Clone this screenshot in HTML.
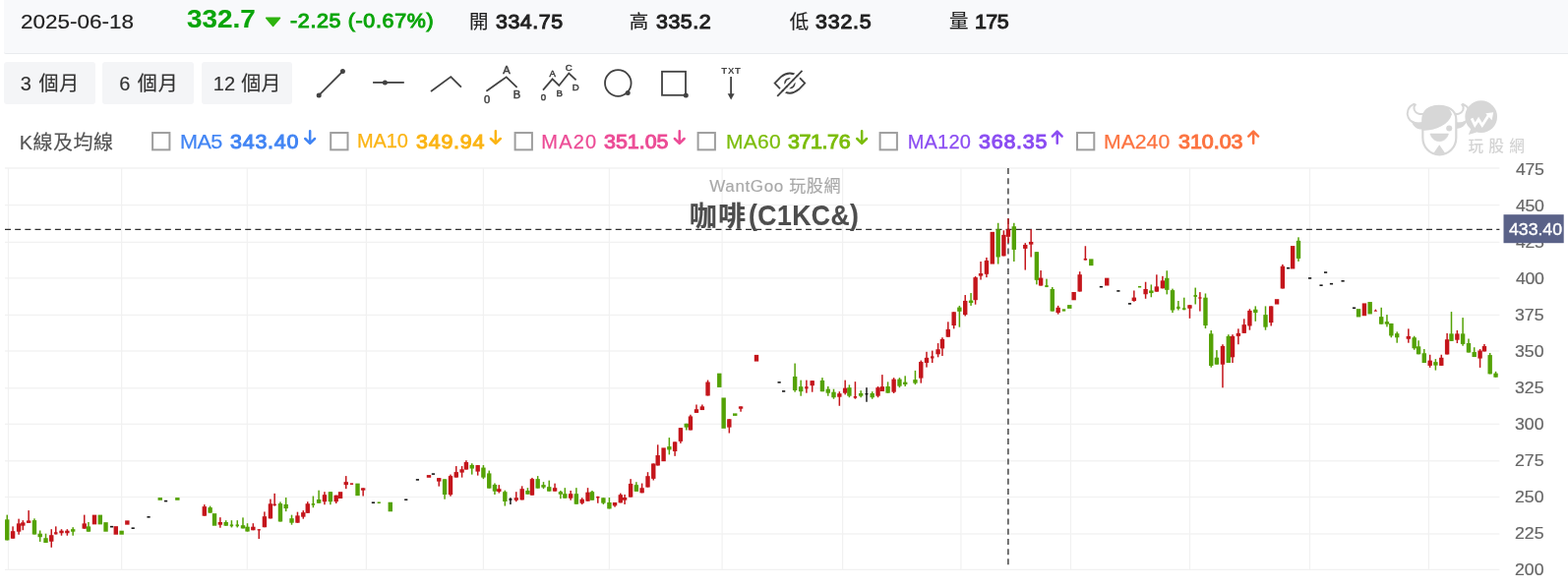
<!DOCTYPE html>
<html lang="zh-Hant">
<head>
<meta charset="utf-8">
<title>咖啡(C1KC&amp;) - WantGoo 玩股網</title>
<style>
*{box-sizing:border-box;margin:0;padding:0}
html,body{width:1594px;height:597px;overflow:hidden;background:#fff}
body{position:relative;font-family:"Liberation Sans","Noto Sans CJK TC","Noto Sans CJK SC",sans-serif;color:#333}
.t{position:absolute;white-space:nowrap;line-height:1;font-style:normal;font-weight:400;transform-origin:0 0}
b.t{font-weight:400}
b.h{font-weight:700}
.hdr{position:absolute;left:4px;top:0;width:1590px;height:55px;background:#f8f9fb;border-bottom:1.6px solid #e9ebee;border-bottom-left-radius:2px}
.btn{position:absolute;top:63px;width:92.5px;height:43px;background:#f4f5f7;border-radius:3px}
.chart,.ov{position:absolute;left:0;top:0}
.it{font-family:"Liberation Sans",sans-serif}
</style>
</head>
<body>
<header>
<div class="hdr"></div>
<span class="t" style="left:21.2px;top:11.05px;font-size:21px;color:#222;transform:scaleX(1.07);-webkit-text-stroke:0.2px #222">2025-06-18</span>
<b class="t h" style="left:189.5px;top:6.4px;font-size:26px;color:#0aa50a;transform:scaleX(1.07);-webkit-text-stroke:0.15px #0aa50a">332.7</b>
<b class="t" style="left:295.3px;top:11.4px;font-size:20px;color:#0aa50a;letter-spacing:0.63px;transform:scaleX(1.07);-webkit-text-stroke:1.0px #0aa50a">-2.25 (-0.67%)</b>
<div><span class="t" style="left:476.9px;top:12.6px;font-size:19.5px;color:#222;-webkit-text-stroke:0.15px #222">開 </span><b class="t" style="left:503.85px;top:12.1px;font-size:20px;color:#222;letter-spacing:0.5px;transform:scaleX(1.07);-webkit-text-stroke:1.0px #222">334.75</b></div>
<div><span class="t" style="left:639.8px;top:12.7px;font-size:19.5px;color:#222;-webkit-text-stroke:0.15px #222">高 </span><b class="t" style="left:666.85px;top:12.1px;font-size:20px;color:#222;letter-spacing:0.5px;transform:scaleX(1.07);-webkit-text-stroke:1.0px #222">335.2</b></div>
<div><span class="t" style="left:802.75px;top:13.1px;font-size:19.5px;color:#222;-webkit-text-stroke:0.15px #222">低 </span><b class="t" style="left:829.15px;top:12.1px;font-size:20px;color:#222;letter-spacing:0.75px;transform:scaleX(1.07);-webkit-text-stroke:1.0px #222">332.5</b></div>
<div><span class="t" style="left:965.0px;top:12.1px;font-size:19.5px;color:#222;-webkit-text-stroke:0.15px #222">量 </span><b class="t" style="left:991.15px;top:12.1px;font-size:20px;color:#222;letter-spacing:-0.5px;transform:scaleX(1.07);-webkit-text-stroke:1.0px #222">175</b></div>
</header>
<nav>
<div class="btn" style="left:4px"></div>
<div class="btn" style="left:104px"></div>
<div class="btn" style="left:204.5px"></div>
<span class="t" style="left:20.85px;top:74.75px;font-size:20px;color:#333;letter-spacing:0.95px;-webkit-text-stroke:0.15px #333">3 個月</span>
<span class="t" style="left:121.15px;top:74.75px;font-size:20px;color:#333;letter-spacing:0.95px;-webkit-text-stroke:0.15px #333">6 個月</span>
<span class="t" style="left:216.75px;top:74.75px;font-size:20px;color:#333;letter-spacing:0.25px;-webkit-text-stroke:0.15px #333">12 個月</span>
<svg class="ov" width="1594" height="597" viewBox="0 0 1594 597" fill="none" stroke="#424242" stroke-width="1.8">
<g>
<path d="M324.2 96.9L348.4 72.6"/>
<circle cx="324.2" cy="96.9" r="2.5" fill="#424242" stroke="none"/>
<circle cx="348.4" cy="72.6" r="2.5" fill="#424242" stroke="none"/>
</g>
<g>
<path d="M379.1 83.9H410.8"/>
<circle cx="391.4" cy="83.9" r="2.5" fill="#424242" stroke="none"/>
</g>
<path d="M438 93L458.3 78.1L468.9 88.7"/>
<g>
<path d="M494.4 92.7L514.7 78.3L525.6 88.9"/>
<g class="it" stroke="#424242" stroke-width="0.5" fill="#424242" font-weight="400" font-size="11.2" text-anchor="middle">
<text x="514.9" y="74.6">A</text>
<text x="525.4" y="100.2">B</text>
<text x="495" y="104.5">0</text>
</g>
</g>
<g>
<path d="M552 91.6L561.6 80.4L568.3 87L578.3 74.5L585.6 81.3"/>
<g class="it" stroke="#424242" stroke-width="0.5" fill="#424242" font-weight="400" font-size="9.6" text-anchor="middle">
<text x="561.8" y="77.7">A</text>
<text x="568.7" y="97.6">B</text>
<text x="578.2" y="72">C</text>
<text x="585.3" y="92">D</text>
<text x="552.5" y="101.8">0</text>
</g>
</g>
<g>
<circle cx="628.3" cy="84.5" r="13.3"/>
<circle cx="638.2" cy="94.6" r="2.5" fill="#424242" stroke="none"/>
</g>
<g>
<rect x="673" y="72.8" width="24" height="24"/>
<circle cx="697.3" cy="96.9" r="2.5" fill="#424242" stroke="none"/>
</g>
<g>
<text class="it" x="743.5" y="74.9" stroke="none" fill="#424242" font-weight="700" font-size="9.6" letter-spacing="0.8" text-anchor="middle">TXT</text>
<path d="M743.1 78V96"/>
<path d="M739.7 95.2H746.6L743.15 101.6Z" fill="#424242" stroke="none"/>
</g>
<g>
<path d="M787.6 84.6L793.6 78.4Q802.9 70.6 812.2 78.4L818.2 84.6L812.2 90.8Q802.9 98.6 793.6 90.8Z" stroke-linejoin="miter"/>
<circle cx="802.9" cy="84.6" r="4.8" stroke-width="1.8"/>
<path d="M791.7 99.3L817 73.4" stroke="#fff" stroke-width="2.4"/>
<path d="M788.7 96.3L814 70.4" stroke="#fff" stroke-width="2.4"/>
<path d="M790.2 97.8L815.5 71.9"/>
</g>
<path d="M270.6 18.3H284.6L277.6 26.5Z" fill="#2eb30e" stroke="#2eb30e" stroke-width="1.4" stroke-linejoin="round"/>
</svg>

</nav>
<section>
<span class="t" style="left:19.7px;top:134.7px;font-size:20px;color:#555;letter-spacing:0.5px;-webkit-text-stroke:0.15px #555">K線及均線</span>
<div><span class="t" style="left:183.2px;top:133.6px;font-size:20px;color:#4285f4;letter-spacing:-0.56px;transform:scaleX(1.08);-webkit-text-stroke:0.25px #4285f4">MA5 </span><b class="t" style="left:233.75px;top:133.8px;font-size:20px;color:#4285f4;letter-spacing:0.75px;transform:scaleX(1.07);-webkit-text-stroke:1.0px #4285f4">343.40</b></div>
<div><span class="t" style="left:363.1px;top:133.4px;font-size:20px;color:#fbb414;letter-spacing:-0.18px;-webkit-text-stroke:0.25px #fbb414">MA10 </span><b class="t" style="left:422.75px;top:133.8px;font-size:20px;color:#fbb414;letter-spacing:0.75px;transform:scaleX(1.07);-webkit-text-stroke:1.0px #fbb414">349.94</b></div>
<div><span class="t" style="left:550.3px;top:133.6px;font-size:20px;color:#ec4c96;letter-spacing:1.23px;-webkit-text-stroke:0.25px #ec4c96">MA20 </span><b class="t" style="left:613.9px;top:133.8px;font-size:20px;color:#ec4c96;transform:scaleX(1.07);-webkit-text-stroke:1.0px #ec4c96">351.05</b></div>
<div><span class="t" style="left:738.1px;top:133.8px;font-size:20px;color:#7cbd0c;letter-spacing:0.25px;transform:scaleX(1.05);-webkit-text-stroke:0.25px #7cbd0c">MA60 </span><b class="t" style="left:800.6px;top:133.8px;font-size:20px;color:#7cbd0c;letter-spacing:-0.36px;transform:scaleX(1.07);-webkit-text-stroke:1.0px #7cbd0c">371.76</b></div>
<div><span class="t" style="left:922.8px;top:134.2px;font-size:20px;color:#8b4df2;letter-spacing:0.16px;-webkit-text-stroke:0.25px #8b4df2">MA120 </span><b class="t" style="left:994.6px;top:133.8px;font-size:20px;color:#8b4df2;letter-spacing:0.75px;transform:scaleX(1.07);-webkit-text-stroke:1.0px #8b4df2">368.35</b></div>
<div><span class="t" style="left:1122.3px;top:133.8px;font-size:20px;color:#fc7340;transform:scaleX(1.06);-webkit-text-stroke:0.25px #fc7340">MA240 </span><b class="t" style="left:1197.95px;top:133.8px;font-size:20px;color:#fc7340;transform:scaleX(1.07);-webkit-text-stroke:1.0px #fc7340">310.03</b></div>
<svg class="ov" width="1594" height="597" viewBox="0 0 1594 597"><rect x="155.10" y="135.05" width="17.3" height="17.3" fill="#fff" stroke="#9e9e9e" stroke-width="2"/><path d="M315.15 133.3V145.5M310.25 141L315.15 145.9L320.05 141" fill="none" stroke="#4285f4" stroke-width="2.5" stroke-linecap="round" stroke-linejoin="round"/><rect x="336.20" y="135.05" width="17.3" height="17.3" fill="#fff" stroke="#9e9e9e" stroke-width="2"/><path d="M503.85 133.3V145.5M498.95 141L503.85 145.9L508.75 141" fill="none" stroke="#fbb414" stroke-width="2.5" stroke-linecap="round" stroke-linejoin="round"/><rect x="523.60" y="135.05" width="17.3" height="17.3" fill="#fff" stroke="#9e9e9e" stroke-width="2"/><path d="M690.75 133.3V145.5M685.85 141L690.75 145.9L695.65 141" fill="none" stroke="#ec4c96" stroke-width="2.5" stroke-linecap="round" stroke-linejoin="round"/><rect x="709.60" y="135.05" width="17.3" height="17.3" fill="#fff" stroke="#9e9e9e" stroke-width="2"/><path d="M876.15 133.3V145.5M871.25 141L876.15 145.9L881.05 141" fill="none" stroke="#7cbd0c" stroke-width="2.5" stroke-linecap="round" stroke-linejoin="round"/><rect x="894.60" y="135.05" width="17.3" height="17.3" fill="#fff" stroke="#9e9e9e" stroke-width="2"/><path d="M1074.75 145.7V133.8M1069.85 138.6L1074.75 133.7L1079.65 138.6" fill="none" stroke="#8b4df2" stroke-width="2.5" stroke-linecap="round" stroke-linejoin="round"/><rect x="1095.00" y="135.05" width="17.3" height="17.3" fill="#fff" stroke="#9e9e9e" stroke-width="2"/><path d="M1274.15 145.7V133.8M1269.25 138.6L1274.15 133.7L1279.05 138.6" fill="none" stroke="#fc7340" stroke-width="2.5" stroke-linecap="round" stroke-linejoin="round"/></svg>
</section>
<aside>
<svg class="ov" width="1594" height="597" viewBox="0 0 1594 597">
<g transform="translate(1425 98) scale(0.10886)" fill="#d7d7d7" stroke="none">
<path d="M112 72C60 95 40 150 62 200C85 245 140 262 205 250L215 160C170 172 130 160 118 128C112 110 112 90 128 78Z" fill="#fff" stroke="#d7d7d7" stroke-width="18" stroke-linejoin="round"/>
<path d="M572 72C625 95 650 150 628 200C605 245 550 262 485 250L475 160C520 172 560 160 572 128C578 110 578 90 562 78Z" fill="#fff" stroke="#d7d7d7" stroke-width="18" stroke-linejoin="round"/>
<path d="M92 222C120 248 170 250 215 235L215 305C150 318 98 285 92 222Z"/>
<path d="M612 215C580 245 530 250 485 235L485 300C550 308 600 275 612 215Z"/>
<path d="M196 215C196 130 265 90 348 90C435 90 508 130 508 215L508 385C508 475 440 546 352 546C262 546 196 475 196 385Z" fill="#fff" stroke="#d7d7d7" stroke-width="20"/>
<path d="M190 215C190 125 262 82 348 82C410 82 452 108 468 168C440 262 330 318 190 322Z"/>
<circle cx="443" cy="298" r="28"/>
<path d="M266 350H436C436 350 420 420 351 420C282 420 266 350 266 350Z" stroke="#d7d7d7" stroke-width="6" stroke-linejoin="round"/>
<path d="M351 452L408 535C375 552 328 552 294 535Z"/>
</g>
<g transform="translate(1485 98) scale(0.10886)" fill="#d7d7d7" stroke="none">
<circle cx="190" cy="190" r="150"/>
<path d="M95 300L72 358L150 335Z"/>
<path d="M102 205L132 268L166 215L200 270L258 180" fill="none" stroke="#fff" stroke-width="26" stroke-linejoin="miter" stroke-linecap="butt"/>
<path d="M232 158L305 150L290 222Z" fill="#fff"/>
</g>
</svg>
<span class="t" style="left:1492.4px;top:141px;font-size:15.6px;letter-spacing:5.3px;color:#d4d4d4;font-weight:500">玩股網</span>

</aside>
<main>
<span class="t" style="left:1541.0px;top:164.15px;font-size:16.5px;color:#666;letter-spacing:-0.25px;transform:scaleX(1.07);-webkit-text-stroke:0.2px #666">475</span>
<span class="t" style="left:1541.0px;top:200.6px;font-size:16.5px;color:#666;letter-spacing:-0.25px;transform:scaleX(1.07);-webkit-text-stroke:0.2px #666">450</span>
<span class="t" style="left:1541.0px;top:237.9px;font-size:16.5px;color:#666;letter-spacing:-0.25px;transform:scaleX(1.07);-webkit-text-stroke:0.2px #666">425</span>
<span class="t" style="left:1541.0px;top:274.7px;font-size:16.5px;color:#666;letter-spacing:-0.25px;transform:scaleX(1.07);-webkit-text-stroke:0.2px #666">400</span>
<span class="t" style="left:1540.0px;top:311.75px;font-size:16.5px;color:#666;transform:scaleX(1.07);-webkit-text-stroke:0.2px #666">375</span>
<span class="t" style="left:1540.0px;top:348.8px;font-size:16.5px;color:#666;transform:scaleX(1.07);-webkit-text-stroke:0.2px #666">350</span>
<span class="t" style="left:1540.0px;top:385.85px;font-size:16.5px;color:#666;transform:scaleX(1.07);-webkit-text-stroke:0.2px #666">325</span>
<span class="t" style="left:1540.0px;top:422.9px;font-size:16.5px;color:#666;transform:scaleX(1.07);-webkit-text-stroke:0.2px #666">300</span>
<span class="t" style="left:1540.0px;top:459.95px;font-size:16.5px;color:#666;transform:scaleX(1.07);-webkit-text-stroke:0.2px #666">275</span>
<span class="t" style="left:1540.0px;top:497.0px;font-size:16.5px;color:#666;transform:scaleX(1.07);-webkit-text-stroke:0.2px #666">250</span>
<span class="t" style="left:1540.0px;top:534.05px;font-size:16.5px;color:#666;transform:scaleX(1.07);-webkit-text-stroke:0.2px #666">225</span>
<span class="t" style="left:1540.0px;top:571.1px;font-size:16.5px;color:#666;transform:scaleX(1.07);-webkit-text-stroke:0.2px #666">200</span>
<svg class="chart" width="1594" height="597" viewBox="0 0 1594 597">
<rect x="5" y="170" width="1519.4" height="2" fill="#f5f5f5"/>
<rect x="5" y="208.00" width="1519.4" height="1.2" fill="#f1f1f1"/>
<rect x="5" y="245.80" width="1519.4" height="1.2" fill="#f1f1f1"/>
<rect x="5" y="282.30" width="1519.4" height="1.2" fill="#f1f1f1"/>
<rect x="5" y="319.80" width="1519.4" height="1.2" fill="#f1f1f1"/>
<rect x="5" y="356.40" width="1519.4" height="1.2" fill="#f1f1f1"/>
<rect x="5" y="394.20" width="1519.4" height="1.2" fill="#f1f1f1"/>
<rect x="5" y="430.70" width="1519.4" height="1.2" fill="#f1f1f1"/>
<rect x="5" y="468.20" width="1519.4" height="1.2" fill="#f1f1f1"/>
<rect x="5" y="504.90" width="1519.4" height="1.2" fill="#f1f1f1"/>
<rect x="5" y="542.40" width="1519.4" height="1.2" fill="#f1f1f1"/>
<rect x="5" y="578.80" width="1519.4" height="1.2" fill="#f1f1f1"/>
<rect x="7.90" y="171" width="1.2" height="408" fill="#f1f1f1"/>
<rect x="123.00" y="171" width="1.2" height="408" fill="#f1f1f1"/>
<rect x="250.70" y="171" width="1.2" height="408" fill="#f1f1f1"/>
<rect x="371.80" y="171" width="1.2" height="408" fill="#f1f1f1"/>
<rect x="490.80" y="171" width="1.2" height="408" fill="#f1f1f1"/>
<rect x="618.80" y="171" width="1.2" height="408" fill="#f1f1f1"/>
<rect x="733.50" y="171" width="1.2" height="408" fill="#f1f1f1"/>
<rect x="856.00" y="171" width="1.2" height="408" fill="#f1f1f1"/>
<rect x="976.30" y="171" width="1.2" height="408" fill="#f1f1f1"/>
<rect x="1087.90" y="171" width="1.2" height="408" fill="#f1f1f1"/>
<rect x="1208.90" y="171" width="1.2" height="408" fill="#f1f1f1"/>
<rect x="1330.90" y="171" width="1.2" height="408" fill="#f1f1f1"/>
<rect x="1451.80" y="171" width="1.2" height="408" fill="#f1f1f1"/>
<path d="M5 233.3H1524.4" fill="none" stroke="#303030" stroke-width="1.25" stroke-dasharray="6 4.176"/>
<path d="M1024.9 171.1V574.6" fill="none" stroke="#3a3a3a" stroke-width="1.4" stroke-dasharray="6 4.185"/>
<rect x="6.49" y="523.62" width="1.5" height="25.83" fill="#54a205"/>
<rect x="5.04" y="528.34" width="4.4" height="21.11" fill="#54a205"/>
<rect x="12.32" y="535.38" width="1.5" height="12.36" fill="#c4151b"/>
<rect x="10.87" y="540.20" width="4.4" height="7.54" fill="#c4151b"/>
<rect x="18.35" y="527.64" width="1.5" height="16.08" fill="#c4151b"/>
<rect x="16.90" y="532.36" width="4.4" height="8.34" fill="#c4151b"/>
<rect x="22.57" y="529.15" width="1.5" height="10.05" fill="#c4151b"/>
<rect x="21.12" y="531.36" width="4.4" height="3.32" fill="#c4151b"/>
<rect x="28.40" y="519.10" width="1.5" height="12.76" fill="#c4151b"/>
<rect x="26.95" y="529.45" width="4.4" height="2.41" fill="#c4151b"/>
<rect x="34.22" y="527.34" width="1.5" height="16.18" fill="#54a205"/>
<rect x="32.77" y="529.15" width="4.4" height="14.37" fill="#54a205"/>
<rect x="39.95" y="539.50" width="1.5" height="11.46" fill="#54a205"/>
<rect x="38.50" y="542.71" width="4.4" height="3.52" fill="#54a205"/>
<rect x="45.78" y="542.71" width="1.5" height="9.35" fill="#54a205"/>
<rect x="44.33" y="547.24" width="4.4" height="4.82" fill="#54a205"/>
<rect x="51.51" y="538.19" width="1.5" height="18.59" fill="#c4151b"/>
<rect x="50.06" y="544.22" width="4.4" height="6.53" fill="#c4151b"/>
<rect x="56.03" y="535.38" width="1.5" height="8.04" fill="#c4151b"/>
<rect x="55.08" y="541.21" width="3.4" height="2.21" fill="#c4151b"/>
<rect x="61.76" y="538.19" width="1.5" height="6.53" fill="#c4151b"/>
<rect x="60.31" y="539.70" width="4.4" height="2.51" fill="#c4151b"/>
<rect x="67.59" y="538.19" width="1.5" height="6.53" fill="#c4151b"/>
<rect x="66.14" y="539.70" width="4.4" height="2.51" fill="#c4151b"/>
<rect x="73.42" y="536.18" width="1.5" height="8.54" fill="#54a205"/>
<rect x="71.97" y="538.19" width="4.4" height="2.51" fill="#54a205"/>
<rect x="84.98" y="523.62" width="1.5" height="14.07" fill="#c4151b"/>
<rect x="83.53" y="532.36" width="4.4" height="5.33" fill="#c4151b"/>
<rect x="89.20" y="530.95" width="1.5" height="9.75" fill="#54a205"/>
<rect x="87.75" y="535.38" width="4.4" height="5.33" fill="#54a205"/>
<rect x="93.78" y="523.62" width="4.4" height="9.75" fill="#c4151b"/>
<rect x="99.61" y="523.62" width="4.4" height="9.75" fill="#54a205"/>
<rect x="105.34" y="531.16" width="4.4" height="9.55" fill="#54a205"/>
<rect x="111.97" y="534.88" width="3.2" height="1.6" fill="#1a1a1a"/>
<rect x="115.59" y="535.18" width="4.4" height="8.54" fill="#c4151b"/>
<rect x="121.42" y="539.70" width="4.4" height="4.02" fill="#54a205"/>
<rect x="127.15" y="529.35" width="4.4" height="4.32" fill="#c4151b"/>
<rect x="133.58" y="536.39" width="3.2" height="1.6" fill="#1a1a1a"/>
<rect x="149.46" y="525.03" width="3.2" height="1.6" fill="#1a1a1a"/>
<rect x="160.56" y="506.08" width="4.4" height="2.71" fill="#54a205"/>
<rect x="166.99" y="508.80" width="3.2" height="1.6" fill="#1a1a1a"/>
<rect x="178.15" y="506.08" width="4.4" height="2.71" fill="#54a205"/>
<rect x="207.04" y="513.12" width="1.5" height="11.56" fill="#c4151b"/>
<rect x="205.59" y="515.13" width="4.4" height="9.55" fill="#c4151b"/>
<rect x="212.87" y="514.62" width="1.5" height="7.04" fill="#54a205"/>
<rect x="211.42" y="516.13" width="4.4" height="5.53" fill="#54a205"/>
<rect x="215.84" y="522.16" width="4.4" height="12.56" fill="#54a205"/>
<rect x="223.12" y="526.18" width="1.5" height="10.55" fill="#c4151b"/>
<rect x="221.67" y="531.01" width="4.4" height="2.71" fill="#c4151b"/>
<rect x="228.95" y="529.20" width="1.5" height="5.53" fill="#54a205"/>
<rect x="227.50" y="531.01" width="4.4" height="3.72" fill="#54a205"/>
<rect x="234.68" y="529.20" width="1.5" height="7.24" fill="#54a205"/>
<rect x="233.73" y="533.42" width="3.4" height="1.81" fill="#54a205"/>
<rect x="240.51" y="529.20" width="1.5" height="7.24" fill="#54a205"/>
<rect x="239.56" y="533.42" width="3.4" height="1.81" fill="#54a205"/>
<rect x="246.23" y="526.38" width="1.5" height="11.06" fill="#54a205"/>
<rect x="244.78" y="534.22" width="4.4" height="3.22" fill="#54a205"/>
<rect x="250.76" y="532.21" width="1.5" height="8.34" fill="#54a205"/>
<rect x="249.31" y="535.73" width="4.4" height="4.82" fill="#54a205"/>
<rect x="256.59" y="532.21" width="1.5" height="7.04" fill="#c4151b"/>
<rect x="255.14" y="535.73" width="4.4" height="3.52" fill="#c4151b"/>
<rect x="262.52" y="538.24" width="1.5" height="9.85" fill="#c4151b"/>
<rect x="261.57" y="538.24" width="3.4" height="1.20" fill="#c4151b"/>
<rect x="268.14" y="520.45" width="1.5" height="15.78" fill="#c4151b"/>
<rect x="266.69" y="525.18" width="4.4" height="11.06" fill="#c4151b"/>
<rect x="274.17" y="507.59" width="1.5" height="19.80" fill="#c4151b"/>
<rect x="272.72" y="512.31" width="4.4" height="15.08" fill="#c4151b"/>
<rect x="278.40" y="501.86" width="1.5" height="12.76" fill="#c4151b"/>
<rect x="277.45" y="512.61" width="3.4" height="1.51" fill="#c4151b"/>
<rect x="284.22" y="510.40" width="1.5" height="20.10" fill="#54a205"/>
<rect x="282.77" y="512.11" width="4.4" height="18.39" fill="#54a205"/>
<rect x="289.95" y="506.08" width="1.5" height="14.07" fill="#54a205"/>
<rect x="288.50" y="512.91" width="4.4" height="4.22" fill="#54a205"/>
<rect x="295.78" y="523.67" width="1.5" height="10.05" fill="#54a205"/>
<rect x="294.33" y="527.19" width="4.4" height="4.52" fill="#54a205"/>
<rect x="301.71" y="520.65" width="1.5" height="11.06" fill="#c4151b"/>
<rect x="300.26" y="524.37" width="4.4" height="7.34" fill="#c4151b"/>
<rect x="307.54" y="519.15" width="1.5" height="8.54" fill="#c4151b"/>
<rect x="306.09" y="521.16" width="4.4" height="4.52" fill="#c4151b"/>
<rect x="312.01" y="510.23" width="1.5" height="11.56" fill="#c4151b"/>
<rect x="310.56" y="512.24" width="4.4" height="9.55" fill="#c4151b"/>
<rect x="317.64" y="504.50" width="1.5" height="11.76" fill="#54a205"/>
<rect x="316.69" y="512.04" width="3.4" height="1.71" fill="#54a205"/>
<rect x="323.37" y="498.67" width="1.5" height="13.07" fill="#54a205"/>
<rect x="321.92" y="508.02" width="4.4" height="3.72" fill="#54a205"/>
<rect x="329.20" y="500.18" width="1.5" height="13.07" fill="#c4151b"/>
<rect x="327.75" y="503.19" width="4.4" height="7.04" fill="#c4151b"/>
<rect x="335.13" y="500.18" width="1.5" height="13.07" fill="#54a205"/>
<rect x="333.68" y="500.18" width="4.4" height="10.05" fill="#54a205"/>
<rect x="340.96" y="503.69" width="1.5" height="8.34" fill="#c4151b"/>
<rect x="339.51" y="503.69" width="4.4" height="6.53" fill="#c4151b"/>
<rect x="343.83" y="500.18" width="4.4" height="6.83" fill="#c4151b"/>
<rect x="351.01" y="484.10" width="1.5" height="13.07" fill="#c4151b"/>
<rect x="349.56" y="490.13" width="4.4" height="3.02" fill="#c4151b"/>
<rect x="355.89" y="491.34" width="3.2" height="1.6" fill="#c4151b"/>
<rect x="361.32" y="491.63" width="4.4" height="12.56" fill="#54a205"/>
<rect x="368.40" y="496.36" width="1.5" height="8.14" fill="#c4151b"/>
<rect x="366.95" y="496.36" width="4.4" height="2.31" fill="#c4151b"/>
<rect x="377.80" y="510.43" width="3.2" height="1.6" fill="#1a1a1a"/>
<rect x="383.63" y="510.43" width="3.2" height="1.6" fill="#54a205"/>
<rect x="394.58" y="510.73" width="4.4" height="9.55" fill="#54a205"/>
<rect x="411.16" y="507.42" width="3.2" height="1.6" fill="#1a1a1a"/>
<rect x="422.82" y="487.11" width="3.2" height="1.6" fill="#1a1a1a"/>
<rect x="433.78" y="483.09" width="4.4" height="2.71" fill="#c4151b"/>
<rect x="438.80" y="481.29" width="3.2" height="1.6" fill="#1a1a1a"/>
<rect x="445.48" y="486.11" width="1.5" height="8.54" fill="#c4151b"/>
<rect x="444.03" y="486.11" width="4.4" height="3.52" fill="#c4151b"/>
<rect x="451.31" y="487.31" width="1.5" height="20.40" fill="#54a205"/>
<rect x="449.86" y="487.31" width="4.4" height="15.68" fill="#54a205"/>
<rect x="457.24" y="482.59" width="1.5" height="22.11" fill="#c4151b"/>
<rect x="455.79" y="484.10" width="4.4" height="19.10" fill="#c4151b"/>
<rect x="463.02" y="474.06" width="1.5" height="11.56" fill="#c4151b"/>
<rect x="461.57" y="480.09" width="4.4" height="5.53" fill="#c4151b"/>
<rect x="468.85" y="474.06" width="1.5" height="11.56" fill="#c4151b"/>
<rect x="467.40" y="477.28" width="4.4" height="3.32" fill="#c4151b"/>
<rect x="473.17" y="468.23" width="1.5" height="9.35" fill="#c4151b"/>
<rect x="471.72" y="470.04" width="4.4" height="7.54" fill="#c4151b"/>
<rect x="479.00" y="471.25" width="1.5" height="11.36" fill="#54a205"/>
<rect x="477.55" y="472.85" width="4.4" height="3.72" fill="#54a205"/>
<rect x="484.93" y="473.06" width="1.5" height="10.55" fill="#c4151b"/>
<rect x="483.48" y="473.06" width="4.4" height="6.53" fill="#c4151b"/>
<rect x="490.66" y="473.06" width="1.5" height="14.07" fill="#54a205"/>
<rect x="489.21" y="475.57" width="4.4" height="10.05" fill="#54a205"/>
<rect x="496.49" y="478.58" width="1.5" height="18.09" fill="#54a205"/>
<rect x="495.04" y="481.40" width="4.4" height="15.28" fill="#54a205"/>
<rect x="502.21" y="491.45" width="1.5" height="11.56" fill="#54a205"/>
<rect x="500.76" y="492.95" width="4.4" height="6.73" fill="#54a205"/>
<rect x="506.54" y="493.16" width="1.5" height="8.34" fill="#c4151b"/>
<rect x="505.09" y="497.18" width="4.4" height="2.81" fill="#c4151b"/>
<rect x="512.57" y="498.68" width="1.5" height="15.88" fill="#54a205"/>
<rect x="511.12" y="500.19" width="4.4" height="9.85" fill="#54a205"/>
<rect x="518.19" y="506.22" width="1.5" height="6.83" fill="#1a1a1a"/>
<rect x="517.44" y="507.03" width="3.0" height="1.81" fill="#1a1a1a"/>
<rect x="524.02" y="500.19" width="1.5" height="10.05" fill="#c4151b"/>
<rect x="522.57" y="506.22" width="4.4" height="2.51" fill="#c4151b"/>
<rect x="529.95" y="494.36" width="1.5" height="14.07" fill="#c4151b"/>
<rect x="528.50" y="497.18" width="4.4" height="11.26" fill="#c4151b"/>
<rect x="535.68" y="496.17" width="1.5" height="6.53" fill="#54a205"/>
<rect x="534.23" y="498.98" width="4.4" height="3.72" fill="#54a205"/>
<rect x="540.20" y="485.92" width="1.5" height="17.79" fill="#c4151b"/>
<rect x="538.75" y="487.13" width="4.4" height="16.58" fill="#c4151b"/>
<rect x="545.93" y="484.11" width="1.5" height="12.56" fill="#54a205"/>
<rect x="544.48" y="487.13" width="4.4" height="9.55" fill="#54a205"/>
<rect x="551.76" y="490.14" width="1.5" height="7.04" fill="#54a205"/>
<rect x="550.31" y="493.16" width="4.4" height="2.51" fill="#54a205"/>
<rect x="557.49" y="488.63" width="1.5" height="11.06" fill="#54a205"/>
<rect x="556.04" y="495.17" width="4.4" height="4.52" fill="#54a205"/>
<rect x="563.32" y="491.65" width="1.5" height="8.04" fill="#c4151b"/>
<rect x="561.87" y="496.17" width="4.4" height="3.52" fill="#c4151b"/>
<rect x="569.15" y="498.98" width="1.5" height="8.24" fill="#54a205"/>
<rect x="567.70" y="500.19" width="4.4" height="2.51" fill="#54a205"/>
<rect x="573.57" y="496.17" width="1.5" height="10.55" fill="#54a205"/>
<rect x="572.12" y="502.20" width="4.4" height="4.52" fill="#54a205"/>
<rect x="579.40" y="498.98" width="1.5" height="9.75" fill="#c4151b"/>
<rect x="577.95" y="502.20" width="4.4" height="4.52" fill="#c4151b"/>
<rect x="585.13" y="496.17" width="1.5" height="16.58" fill="#54a205"/>
<rect x="583.68" y="502.20" width="4.4" height="10.55" fill="#54a205"/>
<rect x="590.96" y="506.22" width="1.5" height="6.83" fill="#c4151b"/>
<rect x="589.51" y="507.73" width="4.4" height="4.02" fill="#c4151b"/>
<rect x="596.79" y="496.17" width="1.5" height="13.57" fill="#c4151b"/>
<rect x="595.34" y="500.69" width="4.4" height="9.05" fill="#c4151b"/>
<rect x="601.21" y="498.98" width="1.5" height="9.75" fill="#54a205"/>
<rect x="599.76" y="500.19" width="4.4" height="8.54" fill="#54a205"/>
<rect x="607.04" y="504.71" width="1.5" height="7.04" fill="#c4151b"/>
<rect x="606.09" y="505.02" width="3.4" height="1.41" fill="#c4151b"/>
<rect x="612.64" y="506.29" width="1.5" height="6.70" fill="#54a205"/>
<rect x="611.19" y="506.29" width="4.4" height="5.36" fill="#54a205"/>
<rect x="618.67" y="506.02" width="1.5" height="11.38" fill="#54a205"/>
<rect x="617.22" y="510.98" width="4.4" height="6.43" fill="#54a205"/>
<rect x="624.29" y="510.98" width="1.5" height="4.69" fill="#c4151b"/>
<rect x="622.84" y="510.98" width="4.4" height="3.35" fill="#c4151b"/>
<rect x="630.05" y="501.60" width="1.5" height="9.78" fill="#c4151b"/>
<rect x="628.60" y="503.21" width="4.4" height="8.17" fill="#c4151b"/>
<rect x="634.34" y="502.94" width="1.5" height="10.04" fill="#c4151b"/>
<rect x="632.89" y="506.02" width="4.4" height="2.68" fill="#c4151b"/>
<rect x="640.36" y="487.14" width="1.5" height="18.48" fill="#c4151b"/>
<rect x="638.91" y="491.96" width="4.4" height="13.66" fill="#c4151b"/>
<rect x="646.12" y="490.22" width="1.5" height="9.64" fill="#54a205"/>
<rect x="644.67" y="493.17" width="4.4" height="6.70" fill="#54a205"/>
<rect x="651.88" y="491.56" width="1.5" height="9.78" fill="#c4151b"/>
<rect x="650.43" y="496.25" width="4.4" height="5.09" fill="#c4151b"/>
<rect x="657.77" y="480.18" width="1.5" height="15.40" fill="#c4151b"/>
<rect x="656.32" y="484.19" width="4.4" height="11.38" fill="#c4151b"/>
<rect x="663.53" y="471.47" width="1.5" height="17.01" fill="#c4151b"/>
<rect x="662.08" y="471.47" width="4.4" height="15.40" fill="#c4151b"/>
<rect x="667.95" y="452.32" width="1.5" height="21.16" fill="#c4151b"/>
<rect x="666.50" y="463.03" width="4.4" height="10.45" fill="#c4151b"/>
<rect x="672.39" y="455.40" width="4.4" height="13.79" fill="#c4151b"/>
<rect x="679.60" y="445.09" width="1.5" height="17.28" fill="#54a205"/>
<rect x="678.15" y="454.06" width="4.4" height="3.35" fill="#54a205"/>
<rect x="685.36" y="449.37" width="1.5" height="14.46" fill="#c4151b"/>
<rect x="683.91" y="449.37" width="4.4" height="9.64" fill="#c4151b"/>
<rect x="691.15" y="435.13" width="1.5" height="15.75" fill="#c4151b"/>
<rect x="689.70" y="435.13" width="4.4" height="13.74" fill="#c4151b"/>
<rect x="697.01" y="430.78" width="1.5" height="6.70" fill="#54a205"/>
<rect x="695.56" y="430.78" width="4.4" height="3.85" fill="#54a205"/>
<rect x="701.20" y="421.73" width="1.5" height="15.75" fill="#c4151b"/>
<rect x="699.75" y="423.40" width="4.4" height="14.08" fill="#c4151b"/>
<rect x="707.24" y="411.50" width="1.5" height="8.38" fill="#c4151b"/>
<rect x="705.79" y="416.20" width="4.4" height="3.69" fill="#c4151b"/>
<rect x="713.10" y="411.50" width="1.5" height="5.53" fill="#c4151b"/>
<rect x="711.65" y="413.35" width="4.4" height="3.69" fill="#c4151b"/>
<rect x="718.80" y="386.53" width="1.5" height="15.92" fill="#c4151b"/>
<rect x="717.35" y="388.55" width="4.4" height="13.91" fill="#c4151b"/>
<rect x="729.08" y="379.66" width="4.4" height="14.25" fill="#54a205"/>
<rect x="733.44" y="404.47" width="4.4" height="31.34" fill="#54a205"/>
<rect x="740.59" y="426.25" width="1.5" height="14.25" fill="#c4151b"/>
<rect x="739.14" y="426.25" width="4.4" height="8.38" fill="#c4151b"/>
<rect x="745.00" y="420.39" width="4.4" height="2.51" fill="#54a205"/>
<rect x="752.32" y="413.35" width="1.5" height="5.36" fill="#c4151b"/>
<rect x="750.87" y="413.35" width="4.4" height="2.35" fill="#c4151b"/>
<rect x="766.79" y="360.89" width="4.4" height="6.70" fill="#c4151b"/>
<rect x="790.52" y="388.08" width="3.2" height="1.6" fill="#1a1a1a"/>
<rect x="795.04" y="397.13" width="3.2" height="1.6" fill="#1a1a1a"/>
<rect x="807.37" y="369.55" width="1.5" height="29.15" fill="#54a205"/>
<rect x="805.92" y="382.91" width="4.4" height="14.07" fill="#54a205"/>
<rect x="813.40" y="386.63" width="1.5" height="16.08" fill="#54a205"/>
<rect x="811.95" y="393.17" width="4.4" height="5.03" fill="#54a205"/>
<rect x="819.12" y="386.63" width="1.5" height="13.07" fill="#c4151b"/>
<rect x="818.17" y="393.17" width="3.4" height="2.21" fill="#c4151b"/>
<rect x="824.95" y="387.14" width="1.5" height="11.56" fill="#c4151b"/>
<rect x="823.50" y="387.14" width="4.4" height="5.03" fill="#c4151b"/>
<rect x="835.20" y="384.12" width="1.5" height="14.07" fill="#54a205"/>
<rect x="833.75" y="386.93" width="4.4" height="11.26" fill="#54a205"/>
<rect x="841.03" y="392.96" width="1.5" height="9.75" fill="#54a205"/>
<rect x="839.58" y="395.68" width="4.4" height="4.02" fill="#54a205"/>
<rect x="846.76" y="395.68" width="1.5" height="10.05" fill="#54a205"/>
<rect x="845.31" y="398.69" width="4.4" height="5.53" fill="#54a205"/>
<rect x="852.59" y="398.19" width="1.5" height="14.57" fill="#c4151b"/>
<rect x="851.14" y="400.20" width="4.4" height="3.52" fill="#c4151b"/>
<rect x="858.42" y="386.63" width="1.5" height="14.77" fill="#c4151b"/>
<rect x="856.97" y="394.67" width="4.4" height="5.03" fill="#c4151b"/>
<rect x="862.64" y="391.36" width="1.5" height="12.86" fill="#54a205"/>
<rect x="861.19" y="394.17" width="4.4" height="8.54" fill="#54a205"/>
<rect x="868.67" y="388.14" width="1.5" height="17.59" fill="#c4151b"/>
<rect x="867.72" y="403.02" width="3.4" height="1.71" fill="#c4151b"/>
<rect x="874.40" y="397.19" width="1.5" height="7.04" fill="#54a205"/>
<rect x="872.95" y="400.00" width="4.4" height="2.71" fill="#54a205"/>
<rect x="880.23" y="394.17" width="1.5" height="14.57" fill="#1a1a1a"/>
<rect x="879.48" y="400.00" width="3.0" height="1.41" fill="#1a1a1a"/>
<rect x="885.96" y="398.19" width="1.5" height="7.54" fill="#54a205"/>
<rect x="884.51" y="400.00" width="4.4" height="4.22" fill="#54a205"/>
<rect x="891.79" y="392.96" width="1.5" height="11.26" fill="#c4151b"/>
<rect x="890.34" y="394.17" width="4.4" height="8.54" fill="#c4151b"/>
<rect x="896.11" y="381.11" width="1.5" height="16.88" fill="#c4151b"/>
<rect x="894.66" y="393.17" width="4.4" height="4.82" fill="#c4151b"/>
<rect x="901.84" y="388.34" width="1.5" height="11.36" fill="#54a205"/>
<rect x="900.39" y="392.96" width="4.4" height="6.73" fill="#54a205"/>
<rect x="907.87" y="384.12" width="1.5" height="15.88" fill="#c4151b"/>
<rect x="906.42" y="385.63" width="4.4" height="13.07" fill="#c4151b"/>
<rect x="913.70" y="384.12" width="1.5" height="10.05" fill="#54a205"/>
<rect x="912.25" y="385.63" width="4.4" height="7.04" fill="#54a205"/>
<rect x="919.43" y="382.31" width="1.5" height="10.65" fill="#54a205"/>
<rect x="917.98" y="388.64" width="4.4" height="2.31" fill="#54a205"/>
<rect x="929.68" y="376.88" width="1.5" height="14.27" fill="#54a205"/>
<rect x="928.23" y="386.13" width="4.4" height="3.52" fill="#54a205"/>
<rect x="935.51" y="366.53" width="1.5" height="23.12" fill="#c4151b"/>
<rect x="934.06" y="368.04" width="4.4" height="16.58" fill="#c4151b"/>
<rect x="941.23" y="357.79" width="1.5" height="15.78" fill="#c4151b"/>
<rect x="939.78" y="363.82" width="4.4" height="5.23" fill="#c4151b"/>
<rect x="946.99" y="356.61" width="1.5" height="12.38" fill="#c4151b"/>
<rect x="946.04" y="362.30" width="3.4" height="2.18" fill="#c4151b"/>
<rect x="952.85" y="349.08" width="1.5" height="14.23" fill="#c4151b"/>
<rect x="951.40" y="355.27" width="4.4" height="5.02" fill="#c4151b"/>
<rect x="957.20" y="343.22" width="1.5" height="18.74" fill="#c4151b"/>
<rect x="955.75" y="344.90" width="4.4" height="9.54" fill="#c4151b"/>
<rect x="963.06" y="327.32" width="1.5" height="15.40" fill="#c4151b"/>
<rect x="961.61" y="334.85" width="4.4" height="7.87" fill="#c4151b"/>
<rect x="968.92" y="317.28" width="1.5" height="17.07" fill="#c4151b"/>
<rect x="967.47" y="317.28" width="4.4" height="13.72" fill="#c4151b"/>
<rect x="974.61" y="310.92" width="1.5" height="21.76" fill="#54a205"/>
<rect x="973.16" y="312.59" width="4.4" height="4.18" fill="#54a205"/>
<rect x="980.46" y="300.04" width="1.5" height="21.42" fill="#c4151b"/>
<rect x="979.01" y="305.90" width="4.4" height="14.23" fill="#c4151b"/>
<rect x="986.32" y="298.03" width="1.5" height="12.89" fill="#54a205"/>
<rect x="984.87" y="305.56" width="4.4" height="2.51" fill="#54a205"/>
<rect x="990.86" y="281.06" width="1.5" height="28.64" fill="#c4151b"/>
<rect x="989.41" y="282.11" width="4.4" height="23.07" fill="#c4151b"/>
<rect x="996.29" y="265.98" width="1.5" height="18.54" fill="#c4151b"/>
<rect x="994.84" y="278.04" width="4.4" height="2.56" fill="#c4151b"/>
<rect x="1002.17" y="261.91" width="1.5" height="20.20" fill="#c4151b"/>
<rect x="1000.72" y="264.93" width="4.4" height="13.87" fill="#c4151b"/>
<rect x="1006.60" y="235.83" width="4.4" height="32.72" fill="#c4151b"/>
<rect x="1013.93" y="226.78" width="1.5" height="41.76" fill="#54a205"/>
<rect x="1012.48" y="233.27" width="4.4" height="28.19" fill="#54a205"/>
<rect x="1019.65" y="234.32" width="1.5" height="26.08" fill="#c4151b"/>
<rect x="1018.20" y="238.85" width="4.4" height="21.56" fill="#c4151b"/>
<rect x="1024.18" y="222.26" width="1.5" height="24.88" fill="#c4151b"/>
<rect x="1022.73" y="233.27" width="4.4" height="7.54" fill="#c4151b"/>
<rect x="1030.06" y="226.78" width="1.5" height="39.20" fill="#54a205"/>
<rect x="1028.61" y="230.25" width="4.4" height="23.67" fill="#54a205"/>
<rect x="1041.51" y="247.14" width="1.5" height="27.44" fill="#c4151b"/>
<rect x="1040.06" y="248.95" width="4.4" height="3.92" fill="#c4151b"/>
<rect x="1047.39" y="233.27" width="1.5" height="28.19" fill="#c4151b"/>
<rect x="1045.94" y="245.93" width="4.4" height="2.71" fill="#c4151b"/>
<rect x="1053.12" y="256.18" width="1.5" height="33.17" fill="#54a205"/>
<rect x="1051.67" y="256.18" width="4.4" height="28.64" fill="#54a205"/>
<rect x="1057.34" y="275.03" width="1.5" height="15.53" fill="#c4151b"/>
<rect x="1055.89" y="282.57" width="4.4" height="7.99" fill="#c4151b"/>
<rect x="1063.22" y="283.62" width="1.5" height="8.44" fill="#54a205"/>
<rect x="1062.27" y="290.10" width="3.4" height="1.96" fill="#54a205"/>
<rect x="1069.02" y="292.01" width="1.5" height="24.57" fill="#54a205"/>
<rect x="1067.57" y="293.97" width="4.4" height="22.61" fill="#54a205"/>
<rect x="1074.90" y="310.86" width="1.5" height="8.74" fill="#c4151b"/>
<rect x="1073.45" y="312.82" width="4.4" height="5.28" fill="#c4151b"/>
<rect x="1079.83" y="314.33" width="3.4" height="2.26" fill="#54a205"/>
<rect x="1085.06" y="310.10" width="4.4" height="3.77" fill="#54a205"/>
<rect x="1089.44" y="296.99" width="4.4" height="8.29" fill="#c4151b"/>
<rect x="1096.92" y="276.18" width="1.5" height="20.35" fill="#c4151b"/>
<rect x="1095.47" y="279.20" width="4.4" height="17.34" fill="#c4151b"/>
<rect x="1102.64" y="250.25" width="1.5" height="14.32" fill="#c4151b"/>
<rect x="1101.69" y="262.92" width="3.4" height="1.66" fill="#c4151b"/>
<rect x="1107.07" y="263.37" width="4.4" height="6.78" fill="#54a205"/>
<rect x="1117.78" y="290.91" width="3.2" height="1.6" fill="#1a1a1a"/>
<rect x="1123.05" y="282.67" width="4.4" height="7.84" fill="#c4151b"/>
<rect x="1135.26" y="295.13" width="3.2" height="1.6" fill="#1a1a1a"/>
<rect x="1146.87" y="308.10" width="3.2" height="1.6" fill="#1a1a1a"/>
<rect x="1152.09" y="295.48" width="1.5" height="11.31" fill="#c4151b"/>
<rect x="1150.64" y="302.57" width="4.4" height="3.47" fill="#c4151b"/>
<rect x="1156.97" y="290.91" width="3.2" height="1.6" fill="#54a205"/>
<rect x="1163.85" y="286.74" width="1.5" height="17.04" fill="#c4151b"/>
<rect x="1162.40" y="293.97" width="4.4" height="5.28" fill="#c4151b"/>
<rect x="1169.58" y="289.45" width="1.5" height="12.81" fill="#54a205"/>
<rect x="1168.13" y="295.48" width="4.4" height="2.56" fill="#54a205"/>
<rect x="1175.10" y="279.32" width="1.5" height="17.34" fill="#c4151b"/>
<rect x="1173.65" y="291.38" width="4.4" height="5.28" fill="#c4151b"/>
<rect x="1181.14" y="280.83" width="1.5" height="12.51" fill="#c4151b"/>
<rect x="1179.69" y="285.35" width="4.4" height="7.99" fill="#c4151b"/>
<rect x="1185.51" y="275.25" width="1.5" height="24.12" fill="#54a205"/>
<rect x="1184.06" y="282.79" width="4.4" height="12.06" fill="#54a205"/>
<rect x="1191.24" y="293.64" width="1.5" height="24.42" fill="#54a205"/>
<rect x="1189.79" y="295.15" width="4.4" height="20.35" fill="#54a205"/>
<rect x="1197.12" y="306.01" width="1.5" height="9.50" fill="#54a205"/>
<rect x="1196.17" y="311.74" width="3.4" height="2.26" fill="#54a205"/>
<rect x="1203.00" y="302.69" width="1.5" height="12.51" fill="#54a205"/>
<rect x="1202.05" y="313.24" width="3.4" height="1.96" fill="#54a205"/>
<rect x="1208.72" y="310.23" width="1.5" height="13.57" fill="#c4151b"/>
<rect x="1207.27" y="310.23" width="4.4" height="3.47" fill="#c4151b"/>
<rect x="1214.45" y="292.59" width="1.5" height="16.89" fill="#54a205"/>
<rect x="1213.50" y="299.98" width="3.4" height="1.96" fill="#54a205"/>
<rect x="1219.13" y="297.11" width="1.5" height="19.45" fill="#c4151b"/>
<rect x="1218.18" y="302.39" width="3.4" height="1.21" fill="#c4151b"/>
<rect x="1224.71" y="298.47" width="1.5" height="35.58" fill="#54a205"/>
<rect x="1223.26" y="302.69" width="4.4" height="28.34" fill="#54a205"/>
<rect x="1230.47" y="336.01" width="1.5" height="37.69" fill="#54a205"/>
<rect x="1229.02" y="339.36" width="4.4" height="32.66" fill="#54a205"/>
<rect x="1236.17" y="356.11" width="1.5" height="14.57" fill="#54a205"/>
<rect x="1234.72" y="363.65" width="4.4" height="7.04" fill="#54a205"/>
<rect x="1242.20" y="350.25" width="1.5" height="44.05" fill="#c4151b"/>
<rect x="1240.75" y="351.93" width="4.4" height="18.76" fill="#c4151b"/>
<rect x="1248.06" y="340.20" width="1.5" height="28.81" fill="#54a205"/>
<rect x="1246.61" y="341.88" width="4.4" height="27.14" fill="#54a205"/>
<rect x="1252.25" y="340.20" width="1.5" height="28.81" fill="#c4151b"/>
<rect x="1250.80" y="341.88" width="4.4" height="21.44" fill="#c4151b"/>
<rect x="1258.11" y="334.34" width="1.5" height="15.91" fill="#c4151b"/>
<rect x="1256.66" y="338.86" width="4.4" height="3.02" fill="#c4151b"/>
<rect x="1263.97" y="324.29" width="1.5" height="14.57" fill="#c4151b"/>
<rect x="1262.52" y="330.15" width="4.4" height="8.71" fill="#c4151b"/>
<rect x="1269.67" y="314.24" width="1.5" height="21.44" fill="#c4151b"/>
<rect x="1268.22" y="315.91" width="4.4" height="15.58" fill="#c4151b"/>
<rect x="1275.53" y="311.39" width="1.5" height="15.41" fill="#54a205"/>
<rect x="1274.08" y="314.74" width="4.4" height="3.35" fill="#54a205"/>
<rect x="1285.75" y="311.39" width="1.5" height="24.29" fill="#54a205"/>
<rect x="1284.30" y="320.10" width="4.4" height="12.56" fill="#54a205"/>
<rect x="1291.44" y="311.39" width="1.5" height="20.10" fill="#c4151b"/>
<rect x="1289.99" y="311.39" width="4.4" height="16.75" fill="#c4151b"/>
<rect x="1295.86" y="304.19" width="4.4" height="5.36" fill="#c4151b"/>
<rect x="1303.12" y="268.92" width="1.5" height="24.57" fill="#c4151b"/>
<rect x="1301.67" y="270.73" width="4.4" height="22.76" fill="#c4151b"/>
<rect x="1308.00" y="271.89" width="3.2" height="1.6" fill="#1a1a1a"/>
<rect x="1311.92" y="250.08" width="4.4" height="23.37" fill="#c4151b"/>
<rect x="1319.25" y="241.33" width="1.5" height="24.57" fill="#54a205"/>
<rect x="1317.80" y="244.80" width="4.4" height="18.09" fill="#54a205"/>
<rect x="1330.01" y="282.14" width="3.2" height="1.6" fill="#1a1a1a"/>
<rect x="1341.47" y="289.38" width="3.2" height="1.6" fill="#1a1a1a"/>
<rect x="1345.99" y="276.26" width="3.2" height="1.6" fill="#1a1a1a"/>
<rect x="1351.87" y="287.87" width="3.2" height="1.6" fill="#1a1a1a"/>
<rect x="1363.48" y="285.01" width="3.2" height="1.6" fill="#1a1a1a"/>
<rect x="1374.94" y="312.45" width="3.2" height="1.6" fill="#1a1a1a"/>
<rect x="1378.86" y="314.15" width="4.4" height="8.29" fill="#54a205"/>
<rect x="1384.74" y="308.42" width="4.4" height="12.81" fill="#c4151b"/>
<rect x="1390.47" y="307.06" width="4.4" height="12.36" fill="#54a205"/>
<path d="M1398.40 314.15L1400.20 316.86L1396.60 316.86Z" fill="#c4151b"/>
<rect x="1403.47" y="312.81" width="1.5" height="16.89" fill="#54a205"/>
<rect x="1402.02" y="322.16" width="4.4" height="7.54" fill="#54a205"/>
<rect x="1409.20" y="320.05" width="1.5" height="12.36" fill="#54a205"/>
<rect x="1407.75" y="327.14" width="4.4" height="2.56" fill="#54a205"/>
<rect x="1413.57" y="328.95" width="1.5" height="14.32" fill="#54a205"/>
<rect x="1412.12" y="328.95" width="4.4" height="12.51" fill="#54a205"/>
<rect x="1419.45" y="337.39" width="1.5" height="11.31" fill="#54a205"/>
<rect x="1418.00" y="339.20" width="4.4" height="4.07" fill="#54a205"/>
<rect x="1431.06" y="334.37" width="1.5" height="14.32" fill="#c4151b"/>
<rect x="1429.61" y="341.91" width="4.4" height="2.86" fill="#c4151b"/>
<rect x="1436.94" y="341.76" width="1.5" height="14.02" fill="#54a205"/>
<rect x="1435.49" y="343.27" width="4.4" height="11.01" fill="#54a205"/>
<rect x="1441.31" y="346.28" width="1.5" height="14.02" fill="#54a205"/>
<rect x="1439.86" y="352.31" width="4.4" height="7.99" fill="#54a205"/>
<rect x="1447.04" y="355.03" width="1.5" height="14.02" fill="#54a205"/>
<rect x="1445.59" y="359.25" width="4.4" height="9.80" fill="#54a205"/>
<rect x="1452.92" y="360.76" width="1.5" height="13.12" fill="#c4151b"/>
<rect x="1451.47" y="366.64" width="4.4" height="5.28" fill="#c4151b"/>
<rect x="1458.65" y="365.13" width="1.5" height="11.46" fill="#54a205"/>
<rect x="1457.20" y="368.14" width="4.4" height="3.47" fill="#54a205"/>
<rect x="1464.53" y="360.76" width="1.5" height="11.16" fill="#c4151b"/>
<rect x="1463.08" y="363.77" width="4.4" height="8.14" fill="#c4151b"/>
<rect x="1470.36" y="338.92" width="1.5" height="21.56" fill="#c4151b"/>
<rect x="1468.91" y="345.25" width="4.4" height="15.23" fill="#c4151b"/>
<rect x="1474.73" y="317.06" width="1.5" height="29.85" fill="#54a205"/>
<rect x="1473.28" y="339.37" width="4.4" height="7.54" fill="#54a205"/>
<rect x="1480.61" y="335.91" width="1.5" height="13.12" fill="#c4151b"/>
<rect x="1479.16" y="339.37" width="4.4" height="6.33" fill="#c4151b"/>
<rect x="1486.34" y="323.09" width="1.5" height="28.64" fill="#54a205"/>
<rect x="1484.89" y="339.37" width="4.4" height="10.55" fill="#54a205"/>
<rect x="1492.22" y="344.50" width="1.5" height="14.02" fill="#54a205"/>
<rect x="1490.77" y="349.02" width="4.4" height="9.50" fill="#54a205"/>
<rect x="1497.95" y="353.24" width="1.5" height="9.80" fill="#54a205"/>
<rect x="1496.50" y="358.07" width="4.4" height="4.98" fill="#54a205"/>
<rect x="1503.83" y="355.05" width="1.5" height="18.85" fill="#c4151b"/>
<rect x="1502.38" y="356.56" width="4.4" height="7.99" fill="#c4151b"/>
<rect x="1508.20" y="349.93" width="1.5" height="7.54" fill="#c4151b"/>
<rect x="1506.75" y="352.04" width="4.4" height="5.43" fill="#c4151b"/>
<rect x="1513.93" y="358.97" width="1.5" height="21.41" fill="#54a205"/>
<rect x="1512.48" y="361.08" width="4.4" height="19.30" fill="#54a205"/>
<rect x="1519.81" y="377.82" width="1.5" height="5.88" fill="#54a205"/>
<rect x="1518.36" y="379.63" width="4.4" height="4.07" fill="#54a205"/>
<rect x="1528.5" y="218.2" width="61.2" height="29" fill="#5a6288"/>
</svg>
<span class="t" style="left:1533.6px;top:225.2px;font-size:16.5px;color:#fff;transform:scaleX(1.07);-webkit-text-stroke:0.4px #fff">433.40</span>
<span class="t" style="left:721.3px;top:181.0px;font-size:17px;color:#a8a8a8;letter-spacing:0.62px;-webkit-text-stroke:0.15px #a8a8a8">WantGoo 玩股網</span>
<b class="t h" style="left:700.8px;top:206.8px;font-size:28px;color:#4d4d4d;letter-spacing:1.25px;-webkit-text-stroke:0.15px #4d4d4d">咖啡</b><b class="t h" style="left:760.9px;top:204.2px;font-size:29.5px;color:#4d4d4d;letter-spacing:0.5px;transform:scaleX(0.9);-webkit-text-stroke:0.15px #4d4d4d">(C1KC&amp;)</b>
</main>
</body>
</html>
